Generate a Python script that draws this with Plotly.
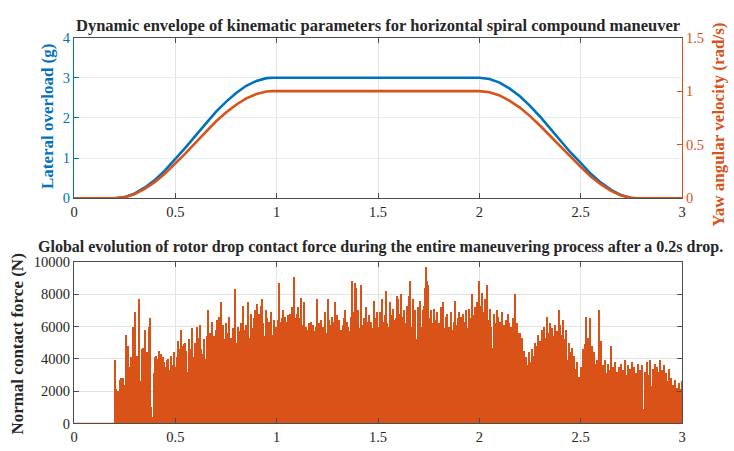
import numpy as np
import plotly.graph_objects as go

# ---------------- Kinematic envelope (upper panel) ----------------
kin_time = [0.0, 0.20, 0.25, 0.30, 0.35, 0.40, 0.45, 0.50, 0.55, 0.60, 0.65, 0.70,
            0.75, 0.80, 0.85, 0.90, 0.95, 0.98, 2.00, 2.05, 2.10, 2.15, 2.20, 2.25,
            2.30, 2.35, 2.40, 2.45, 2.50, 2.55, 2.60, 2.65, 2.70, 2.75, 2.78, 3.0]
lateral_g = [0, 0, 0.03, 0.12, 0.27, 0.46, 0.70, 0.97, 1.26, 1.56, 1.86, 2.15,
             2.40, 2.62, 2.80, 2.92, 2.99, 3.0, 3.0, 2.97, 2.88, 2.73, 2.54, 2.30,
             2.03, 1.74, 1.44, 1.14, 0.88, 0.61, 0.39, 0.21, 0.08, 0.01, 0, 0]
yaw_rate = [0, 0, 0.010, 0.040, 0.090, 0.153, 0.233, 0.323, 0.420, 0.520, 0.620, 0.717,
            0.800, 0.873, 0.933, 0.973, 0.997, 1.0, 1.0, 0.990, 0.960, 0.910, 0.847, 0.767,
            0.677, 0.580, 0.480, 0.380, 0.293, 0.203, 0.130, 0.070, 0.027, 0.003, 0, 0]

# ---------------- Rotor drop contact force (lower panel) ----------------
drop_time = 0.2          # s, rotor drop instant
sample_step = 0.005      # s
contact_force = [
    3900, 2100, 2000, 1500, 2000, 2700, 2800, 2600, 2800, 2200, 2400, 5500, 3200, 4800, 3500, 2900, 4100, 3200, 6000, 2300,
    6900, 3000, 4200, 2800, 7700, 2000, 2600, 4600, 4700, 1900, 5800, 2400, 4400, 2500, 6000, 6500, 1000, 0, 400, 3100,
    4100, 4200, 3000, 4000, 4500, 3200, 4300, 2600, 4100, 3800, 2000, 3500, 3900, 4000, 1800, 3300, 4200, 2500, 3600, 4400,
    3500, 2400, 4100, 5100, 4600, 3900, 5800, 4800, 2200, 4900, 5000, 4500, 3200, 5200, 4600, 3000, 5900, 4100, 3600, 5000,
    4400, 6000, 5300, 2700, 6100, 4600, 3100, 4300, 5200, 3600, 4000, 5400, 7000, 3400, 5600, 5100, 6300, 4700, 5400, 3300,
    5800, 6400, 4900, 6600, 5700, 7500, 3100, 6100, 5200, 2900, 6200, 5600, 4700, 6600, 4000, 5300, 3600, 5900, 5400, 8300,
    4200, 5000, 6000, 3400, 5700, 6200, 5100, 7300, 5800, 4400, 6100, 5500, 7500, 4100, 5300, 6800, 5900, 3700, 6500, 7000,
    5200, 7400, 6000, 6800, 4500, 7300, 7700, 6200, 5400, 7000, 6500, 3500, 6300, 5800, 6900, 4100, 5500, 6400, 3200, 6000,
    5900, 6400, 8700, 6300, 4300, 6500, 7000, 5800, 6600, 3800, 6300, 6700, 5400, 6800, 6600, 7200, 5300, 9100, 6500, 5000,
    6800, 7200, 3000, 6500, 7800, 6100, 5600, 7500, 4400, 6000, 5800, 5200, 6200, 4000, 6300, 5900, 6100, 3500, 5700, 6000,
    7700, 5900, 6200, 5800, 6400, 4300, 6000, 5700, 6900, 3100, 5600, 7700, 6400, 6100, 5500, 6600, 4900, 6300, 7500, 5800,
    6700, 5200, 6400, 5800, 2500, 6100, 6500, 7000, 5600, 6300, 6000, 4800, 5700, 6600, 8800, 4100, 6900, 8700, 8400, 6400,
    7000, 5200, 5900, 8600, 6100, 4600, 6500, 5900, 7200, 4000, 6300, 6700, 5700, 6300, 4500, 5900, 7600, 6500, 3600, 6900,
    6000, 5800, 6900, 6200, 7700, 5000, 6300, 6700, 8200, 6200, 6000, 4500, 7500, 6700, 5800, 7100, 6400, 4800, 6500, 7900,
    7700, 6800, 6300, 8000, 5900, 6600, 7000, 4500, 6200, 7300, 6800, 7900, 8800, 6000, 5600, 7700, 6400, 7000, 5200, 7200,
    6700, 7600, 6000, 5100, 7000, 7300, 8400, 9700, 8800, 8600, 6500, 5600, 7000, 6200, 4900, 7100, 6400, 5500, 6900, 6000,
    6200, 5700, 7200, 6400, 7500, 5900, 4300, 6600, 6800, 5400, 6000, 5200, 6900, 5800, 4700, 6300, 7600, 6100, 5500, 6500,
    6900, 4000, 6600, 6100, 6800, 5600, 6300, 7000, 5900, 4600, 7100, 6000, 6500, 8000, 6700, 5700, 7200, 6300, 7500, 6600,
    8800, 7300, 6400, 8100, 6900, 5700, 7700, 6300, 8600, 5900, 6400, 7100, 6000, 4700, 6800, 6200, 5500, 7000, 6600, 4900,
    6300, 5800, 6900, 5500, 6100, 4600, 6400, 5900, 6800, 6200, 5300, 6000, 4300, 6500, 5600, 8000, 5800, 6200, 3700, 5600,
    5600, 4800, 5300, 3900, 4500, 3400, 4100, 3600, 3200, 4400, 3800, 3000, 4600, 3500, 4200, 5000, 3700, 4800, 5500, 4300,
    5100, 4400, 5800, 3600, 6000, 5300, 4700, 6600, 5600, 4100, 6200, 5000, 5900, 3300, 5400, 6100, 4600, 5700, 3900, 7000,
    6100, 5500, 4200, 6400, 5200, 4800, 5800, 3900, 5000, 4400, 3600, 4700, 3100, 4200, 3400, 2200, 3800, 1500, 2900, 800,
    3500, 2400, 4600, 3300, 4900, 6600, 3900, 5300, 4200, 6500, 3000, 4800, 2600, 4400, 3700, 1200, 3900, 3200, 7000, 300,
    5100, 2500, 3600, 1400, 3900, 2800, 3100, 3700, 800, 3300, 4800, 2100, 3500, 1000, 3800, 2600, 3200, 400, 3500, 2900,
    3700, 1600, 3300, 2700, 3900, 600, 3000, 3600, 2200, 3400, 1100, 3800, 2900, 3500, 200, 3100, 2400, 3700, 1800, 3300,
    2700, 3600, 900, 3200, 2500, 3800, 1500, 3000, 3900, 2300, 500, 3400, 2800, 3700, 1900, 3500, 3200, 800, 3900, 2600,
    3300, 1700, 3600, 2900, 3100, 400, 2600, 3400, 2000, 2800, 1200, 2400, 1800, 2700, 900, 2200, 1600, 2500, 1300, 2100,
    2600,
]
force_time = drop_time + sample_step * np.arange(len(contact_force))

x_ticks = [0, 0.5, 1, 1.5, 2, 2.5, 3]
x_tick_text = ["0", "0.5", "1", "1.5", "2", "2.5", "3"]
force_ticks = [0, 2000, 4000, 6000, 8000, 10000]
force_tick_text = ["0", "2000", "4000", "6000", "8000", "10000"]

BLUE = "#0072BD"
ORANGE = "#D95319"
AXIS = "#4d4d4d"
GRID = "#e3e3e3"
FONT = "Liberation Serif, Times New Roman, serif"
TICK_SIZE = 14.5
LABEL_SIZE = 17
TITLE_SIZE = 16.5

fig = go.Figure()

fig.add_trace(go.Scatter(x=kin_time, y=lateral_g, mode="lines",
                         line=dict(color=BLUE, width=2.6),
                         xaxis="x", yaxis="y", showlegend=False))
fig.add_trace(go.Scatter(x=kin_time, y=yaw_rate, mode="lines",
                         line=dict(color=ORANGE, width=2.6),
                         xaxis="x", yaxis="y2", showlegend=False))

fig.add_trace(go.Scatter(x=[0, drop_time], y=[0, 0], mode="lines",
                         line=dict(color=ORANGE, width=1.2),
                         xaxis="x2", yaxis="y3", showlegend=False))
fig.add_trace(go.Bar(x=force_time, y=contact_force, width=sample_step,
                     marker=dict(color=ORANGE, line=dict(width=0)),
                     xaxis="x2", yaxis="y3", showlegend=False))

top_dom = [0.5625, 0.932]
bot_dom = [0.045, 0.416]


def tfont(color):
    return dict(family=FONT, size=TICK_SIZE, color=color)


fig.update_layout(
    width=734, height=451,
    margin=dict(l=74, r=52, t=0, b=0),
    paper_bgcolor="white", plot_bgcolor="white",
    bargap=0,
    font=dict(family=FONT, color="#262626"),
    xaxis=dict(domain=[0, 1], anchor="y", range=[0, 3], tickvals=x_ticks, ticktext=x_tick_text,
               showgrid=True, gridcolor=GRID, gridwidth=1, zeroline=False,
               showline=True, linecolor=AXIS, linewidth=1, mirror="ticks",
               ticks="inside", ticklen=5, tickcolor=AXIS, tickfont=tfont("#262626")),
    yaxis=dict(domain=top_dom, anchor="x", range=[0, 4], tickvals=[0, 1, 2, 3, 4],
               ticktext=["0", "1", "2", "3", "4"],
               showgrid=True, gridcolor="#e4ecf5", gridwidth=1, zeroline=False,
               showline=True, linecolor=BLUE, linewidth=1,
               ticks="inside", ticklen=5, tickcolor=BLUE, tickfont=tfont(BLUE)),
    yaxis2=dict(overlaying="y", side="right", anchor="x", range=[0, 1.5],
                tickvals=[0, 0.5, 1, 1.5], ticktext=["0", "0.5", "1", "1.5"],
                showgrid=False, zeroline=False,
                showline=True, linecolor=ORANGE, linewidth=1,
                ticks="inside", ticklen=5, tickcolor=ORANGE, tickfont=tfont(ORANGE)),
    xaxis2=dict(domain=[0, 1], anchor="y3", range=[0, 3], tickvals=x_ticks, ticktext=x_tick_text,
                showgrid=True, gridcolor=GRID, gridwidth=1, zeroline=False,
                showline=True, linecolor=AXIS, linewidth=1, mirror="ticks",
                ticks="inside", ticklen=5, tickcolor=AXIS, tickfont=tfont("#262626")),
    yaxis3=dict(domain=bot_dom, anchor="x2", range=[0, 10000],
                tickvals=force_ticks, ticktext=force_tick_text,
                showgrid=True, gridcolor=GRID, gridwidth=1, zeroline=False,
                showline=True, linecolor=AXIS, linewidth=1, mirror="ticks",
                ticks="inside", ticklen=5, tickcolor=AXIS, tickfont=tfont("#262626")),
)

# Titles and axis labels placed in canvas pixel coordinates (x, y from top-left)
plot_w = 734 - 74 - 52
texts = [
    ("<b>Dynamic envelope of kinematic parameters for horizontal spiral compound maneuver</b>",
     378, 18, 0, TITLE_SIZE, "#262626"),
    ("<b>Global evolution of rotor drop contact force during the entire maneuvering process after a 0.2s drop.</b>",
     380, 248, 0, 16, "#262626"),
    ("<b>Lateral overload (g)</b>", 48, 113, -90, LABEL_SIZE, BLUE),
    ("<b>Yaw angular velocity (rad/s)</b>", 719, 121, -90, LABEL_SIZE, ORANGE),
    ("<b>Normal contact force (N)</b>", 18, 349, -90, LABEL_SIZE, "#262626"),
]
annotations = []
for text, px, py, angle, size, color in texts:
    annotations.append(dict(
        text=text, textangle=angle, showarrow=False,
        x=(px - 74) / plot_w, xref="paper", xanchor="center",
        y=1 - py / 451, yref="paper", yanchor="middle",
        font=dict(family=FONT, size=size, color=color)))
fig.update_layout(annotations=annotations)

fig.write_html("out.html")
